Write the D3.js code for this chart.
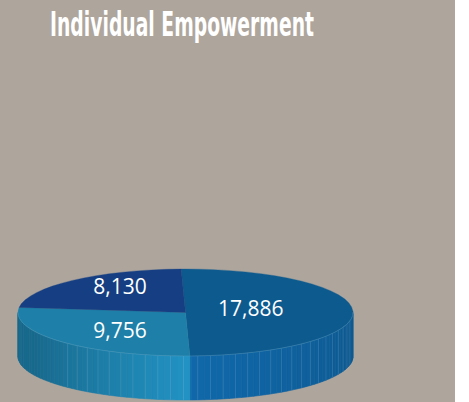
<!DOCTYPE html>
<html>
<head>
<meta charset="utf-8">
<script src="https://cdn.jsdelivr.net/npm/d3@7"></script>
<style>
  body { margin: 0; background: #ffffff; }
  svg { display: block; }
</style>
</head>
<body>
<div id="chart"></div>
<script>
// chart values
var titleText = "Individual Empowerment";
var sliceValues = [17886, 9756, 8130];
var sliceLabels = ["17,886", "9,756", "8,130"];
var topColors = ["#0d5a8f", "#1e80a8", "#153f82"];
var sideColors = ["#1069ab", "#2192c3", "#12407f"];

var W = 469, H = 402;
var cx = 185.5, cy = 312.5, rx = 167.5, ry = 43.5, depth = 44;
var ratio = ry / rx;
// label placement (fraction of radius, baseline nudge)
var labelR = [0.39, 0.53, 0.58];
var labelDy = [4, 10, 0];

var svg = d3.select("#chart").append("svg").attr("width", W).attr("height", H);

// grey panel, white strip on the right
svg.append("rect").attr("x", 0).attr("y", 0).attr("width", 455).attr("height", H).attr("fill", "#aea59c");

svg.append("text")
    .attr("x", 50).attr("y", 36)
    .attr("textLength", 264).attr("lengthAdjust", "spacingAndGlyphs")
    .attr("font-family", "DejaVu Sans Condensed, DejaVu Sans")
    .attr("font-weight", "bold")
    .attr("font-size", 33)
    .attr("fill", "#ffffff")
    .text(titleText);

var pie = d3.pie().sort(null)
    .startAngle(-1.5 * Math.PI / 180)
    .endAngle(2 * Math.PI - 1.5 * Math.PI / 180);
var arcs = pie(sliceValues);

// ellipse point for an angle (0 = 12 o'clock, clockwise)
function px(a) { return cx + rx * Math.sin(a); }
function py(a) { return cy - ry * Math.cos(a); }

// side walls: only the front half (pi/2 .. 3pi/2) is visible
var sideG = svg.append("g");
var step = 2.2 * Math.PI / 180;
arcs.forEach(function(d, i) {
    var a0 = Math.max(d.startAngle, Math.PI / 2);
    var a1 = Math.min(d.endAngle, 3 * Math.PI / 2);
    if (a1 <= a0) return;
    var base = d3.color(sideColors[i]);
    for (var a = a0; a < a1; a += step) {
        var b = Math.min(a + step, a1);
        var m = (a + b) / 2;
        // brightest near the bottom, darker towards both ends
        var dk = m < Math.PI ? 0.5 * (Math.PI - m) / (Math.PI / 2)
                             : 1.3 * (m - Math.PI) / (Math.PI / 2);
        dk = Math.min(dk, 0.9);
        var c = base.darker(dk).formatHex();
        var p = "M" + px(a) + "," + py(a) +
            "L" + px(b) + "," + py(b) +
            "L" + px(b) + "," + (py(b) + depth) +
            "L" + px(a) + "," + (py(a) + depth) + "Z";
        sideG.append("path").attr("d", p).attr("fill", c)
            .attr("stroke", c).attr("stroke-width", 0.6);
        if (a > a0 + 0.001 && m > 1.75 && m < 4.0 && Math.round(a / step) % 2 == 0) {
            sideG.append("line")
                .attr("x1", px(a)).attr("y1", py(a))
                .attr("x2", px(a)).attr("y2", py(a) + depth)
                .attr("stroke", "#ffffff").attr("stroke-opacity", 0.14).attr("stroke-width", 0.8);
        }
    }
});

// top face
var arc = d3.arc().innerRadius(0).outerRadius(rx);
var topG = svg.append("g").attr("transform", "translate(" + cx + "," + cy + ") scale(1," + ratio + ")");
topG.selectAll("path").data(arcs).enter().append("path")
    .attr("d", arc)
    .attr("fill", function(d, i) { return topColors[i]; })
    .attr("stroke", function(d, i) { return topColors[i]; })
    .attr("stroke-width", 0.5);

// thin light rim on the front edge of the top
var rim = d3.range(Math.PI / 2, 3 * Math.PI / 2 + 0.001, Math.PI / 90).map(function(a) { return [px(a), py(a)]; });
svg.append("path").attr("d", d3.line()(rim)).attr("fill", "none")
    .attr("stroke", "#5fa8d0").attr("stroke-opacity", 0.45).attr("stroke-width", 0.8);

// labels
svg.append("g").selectAll("text").data(arcs).enter().append("text")
    .attr("x", function(d, i) {
        var a = (d.startAngle + d.endAngle) / 2;
        return cx + rx * labelR[i] * Math.sin(a);
    })
    .attr("y", function(d, i) {
        var a = (d.startAngle + d.endAngle) / 2;
        return cy - ry * labelR[i] * Math.cos(a) + labelDy[i];
    })
    .attr("text-anchor", "middle")
    .attr("font-family", "Open Sans, Lato, sans-serif")
    .attr("font-size", 21)
    .attr("fill", "#ffffff")
    .text(function(d, i) { return sliceLabels[i]; });
</script>
</body>
</html>
